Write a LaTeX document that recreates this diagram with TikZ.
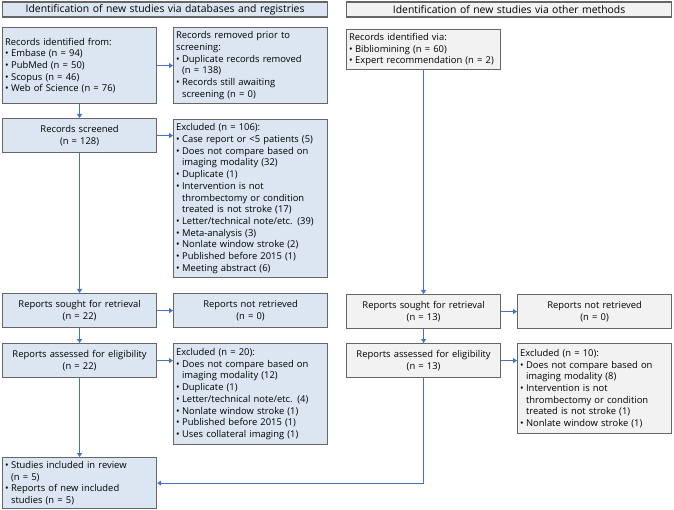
\documentclass[tikz,border=0pt]{standalone}
\usepackage{fontspec}
\setmainfont{Open Sans}
\usetikzlibrary{arrows.meta}

\definecolor{boxblue}{HTML}{DCE6F2}
\definecolor{boxgray}{HTML}{F2F2F2}
\definecolor{edgegray}{HTML}{666666}
\definecolor{flowblue}{HTML}{4472C4}

\newcommand{\itm}{\makebox[6pt][l]{\textbullet}}
\newcommand{\cnt}{\hspace*{6pt}}

\tikzset{
  box/.style={draw=edgegray, line width=1.2pt, inner xsep=2.5pt, inner ysep=2.5pt,
    anchor=north west, text width=149pt, align=left,
    font=\fontsize{9.4}{11.7}\selectfont},
  dbbox/.style={box, fill=boxblue},
  otbox/.style={box, fill=boxgray},
  midbox/.style={align=center},
  hdrbox/.style={text width=320pt, minimum height=15pt, inner ysep=0.5pt, align=center,
    font=\fontsize{10.4}{12}\selectfont},
  flow/.style={draw=flowblue, line width=0.8pt, -{Triangle[width=5pt,length=4pt]}},
}

\begin{document}
\begin{tikzpicture}[x=1pt, y=-1pt]

\path [use as bounding box] (0,0) rectangle (674,510);

% HEADERS
\node [dbbox, hdrbox] (hdrdb) at (2,1.5) {Identification of new studies via databases and registries};
\node [otbox, hdrbox] (hdrot) at (346,1.5) {Identification of new studies via other methods};

% DATABASES AND REGISTRIES
\node [dbbox, minimum height=76pt] (idL) at (2,27) {Records identified from:\\
  \itm Embase (n = 94)\\
  \itm PubMed (n = 50)\\
  \itm Scopus (n = 46)\\
  \itm Web of Science (n = 76)\\[8pt]};
\node [dbbox, minimum height=76pt] (remL) at (173,27) {Records removed prior to\\
  screening:\\
  \itm Duplicate records removed\\
  \cnt (n = 138)\\
  \itm Records still awaiting\\
  \cnt screening (n = 0)};
\node [dbbox, midbox, minimum height=34pt] (scrL) at (2,118) {Records screened\\ (n = 128)};
\node [dbbox, minimum height=158pt] (excL1) at (173,119) {Excluded (n = 106):\\
  \itm Case report or <5 patients (5)\\
  \itm Does not compare based on\\
  \cnt imaging modality (32)\\
  \itm Duplicate (1)\\
  \itm Intervention is not\\
  \cnt thrombectomy or condition\\
  \cnt treated is not stroke (17)\\
  \itm Letter/technical note/etc. (39)\\
  \itm Meta-analysis (3)\\
  \itm Nonlate window stroke (2)\\
  \itm Published before 2015 (1)\\
  \itm Meeting abstract (6)};
\node [dbbox, midbox, minimum height=34pt] (soughtL) at (2,293) {Reports sought for retrieval\\ (n = 22)};
\node [dbbox, midbox, minimum height=34pt] (notretL) at (173,293) {Reports not retrieved\\ (n = 0)};
\node [dbbox, midbox, minimum height=34pt] (assessL) at (2,343) {Reports assessed for eligibility\\ (n = 22)};
\node [dbbox, minimum height=101pt] (excL2) at (173,343) {Excluded (n = 20):\\
  \itm Does not compare based on\\
  \cnt imaging modality (12)\\
  \itm Duplicate (1)\\
  \itm Letter/technical note/etc. (4)\\
  \itm Nonlate window stroke (1)\\
  \itm Published before 2015 (1)\\
  \itm Uses collateral imaging (1)};
\node [dbbox, minimum height=51pt] (incl) at (2,457) {\itm Studies included in review\\
  \cnt (n = 5)\\
  \itm Reports of new included\\
  \cnt studies (n = 5)};

% OTHER METHODS
\node [otbox, minimum height=40pt] (idR) at (346,29) {Records identified via:\\
  \itm Bibliomining (n = 60)\\
  \itm \mbox{Expert recommendation (n = 2)}};
\node [otbox, midbox, minimum height=34pt] (soughtR) at (346,294) {Reports sought for retrieval\\ (n = 13)};
\node [otbox, midbox, minimum height=34pt] (notretR) at (517,294) {Reports not retrieved\\ (n = 0)};
\node [otbox, midbox, minimum height=34pt] (assessR) at (346,343) {Reports assessed for eligibility\\ (n = 13)};
\node [otbox, minimum height=90pt] (excR) at (517,343) {Excluded (n = 10):\\
  \itm Does not compare based on\\
  \cnt imaging modality (8)\\
  \itm Intervention is not\\
  \cnt thrombectomy or condition\\
  \cnt treated is not stroke (1)\\
  \itm Nonlate window stroke (1)};

% ARROWS
\draw [flow] (idL) -- (scrL);
\draw [flow] (idL.east) -- (remL.west |- idL.east);
\draw [flow] (scrL) -- (soughtL);
\draw [flow] (scrL.east) -- (excL1.west |- scrL.east);
\draw [flow] (soughtL) -- (assessL);
\draw [flow] (soughtL) -- (notretL);
\draw [flow] (assessL) -- (incl);
\draw [flow] (assessL.east) -- (excL2.west |- assessL.east);

\draw [flow] (idR) -- (soughtR);
\draw [flow] (soughtR) -- (notretR);
\draw [flow] (soughtR) -- (assessR);
\draw [flow] (assessR.east) -- (excR.west |- assessR.east);
\draw [flow] (assessR.south) |- (incl.east);

\end{tikzpicture}
\end{document}
